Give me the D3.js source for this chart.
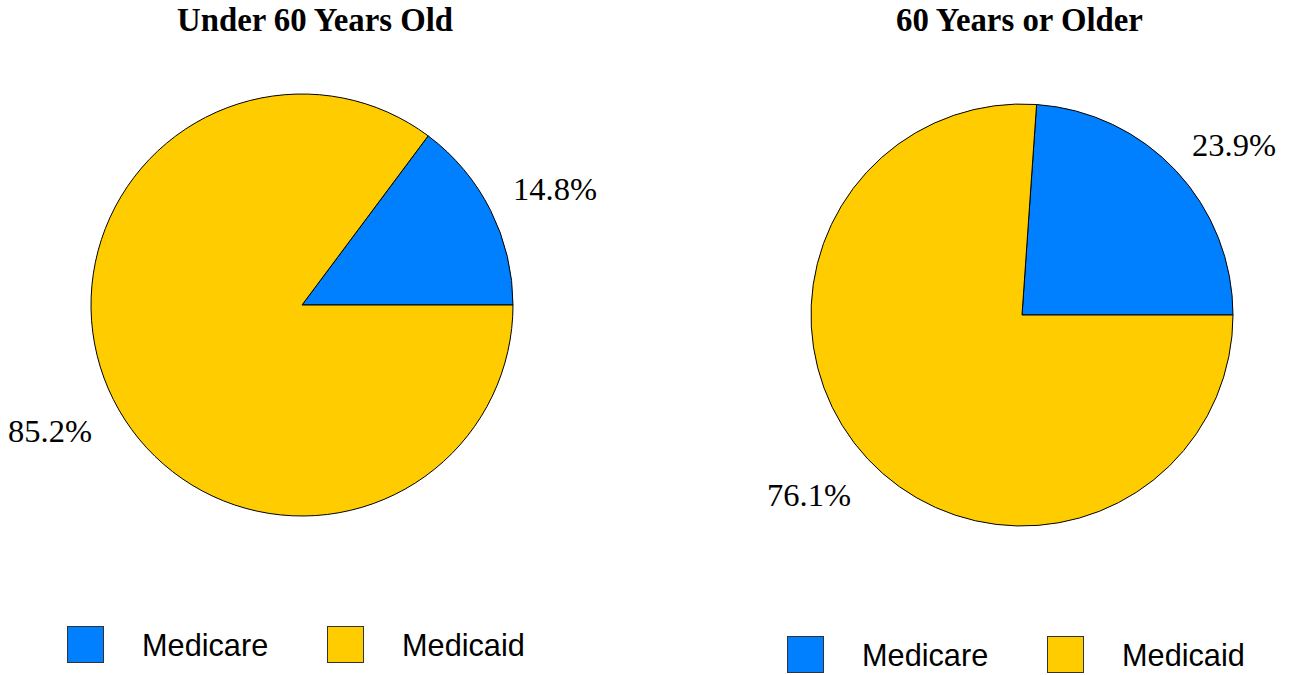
<!DOCTYPE html>
<html><head><meta charset="utf-8">
<script src="https://cdn.jsdelivr.net/npm/d3@7"></script>
<style>body{margin:0;background:#fff}svg{display:block}</style>
</head><body>
<svg id="chart" width="1291" height="675"></svg>
<script>
const categories = ["Medicare", "Medicaid"];
const panelTitles = ["Under 60 Years Old", "60 Years or Older"];
const under60 = [14.8, 85.2];
const over60 = [23.9, 76.1];
const colors = ["#0080FF", "#FFCC00"];

const svg = d3.select("#chart");
const panels = [
  {title: panelTitles[0], values: under60, cx: 302, cy: 305, r: 211, titleX: 315,
   labels: [[513, 200, "start"], [8, 442, "start"]], legendY: 626},
  {title: panelTitles[1], values: over60, cx: 1022, cy: 315, r: 211, titleX: 1019.5,
   labels: [[1192, 156, "start"], [767, 506, "start"]], legendY: 636}
];

const color = d3.scaleOrdinal().domain(categories).range(colors);

panels.forEach((p, pi) => {
  const g = svg.append("g");
  g.append("text").attr("x", p.titleX).attr("y", 31).attr("text-anchor", "middle")
    .attr("font-family", "'Liberation Serif','Times New Roman',serif").attr("font-weight", "bold")
    .attr("font-size", 32.8).text(p.title);

  const total = d3.sum(p.values);
  const startAngle = Math.PI / 2 - 2 * Math.PI * p.values[0] / total;
  const pie = d3.pie().sort(null).value(d => d)
    .startAngle(startAngle).endAngle(startAngle + 2 * Math.PI);
  const arc = d3.arc().innerRadius(0).outerRadius(p.r);
  const pg = g.append("g").attr("transform", `translate(${p.cx},${p.cy})`);
  pg.selectAll("path").data(pie(p.values)).join("path")
    .attr("d", arc).attr("fill", (d, i) => color(categories[i]))
    .attr("stroke", "#000").attr("stroke-width", 1);

  p.values.forEach((v, i) => {
    g.append("text").attr("x", p.labels[i][0]).attr("y", p.labels[i][1])
      .attr("font-family", "'Liberation Serif','Times New Roman',serif")
      .attr("font-size", 32.5).text(v.toFixed(1) + "%");
  });

  const lx = pi === 0 ? 67 : 787;
  categories.forEach((c, i) => {
    const x = lx + i * 260;
    g.append("rect").attr("x", x + 0.5).attr("y", p.legendY + 0.5).attr("width", 36).attr("height", 36)
      .attr("fill", color(c)).attr("stroke", "#333").attr("stroke-width", 1);
    g.append("text").attr("x", x + 75).attr("y", p.legendY + 30)
      .attr("font-family", "'Liberation Sans',Arial,sans-serif").attr("font-size", 30.7).text(c);
  });
});
</script>
</body></html>
